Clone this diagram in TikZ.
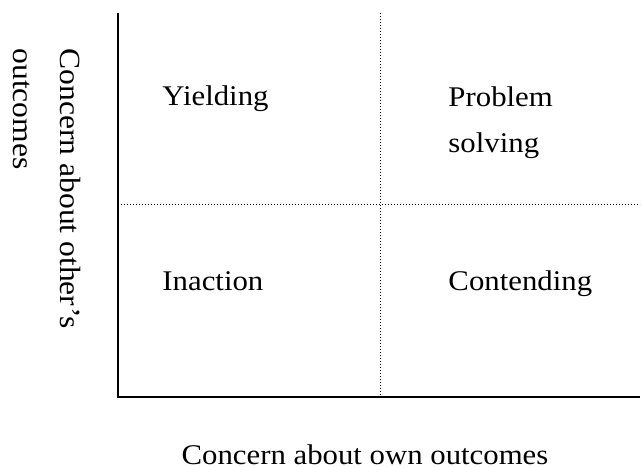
\documentclass[tikz,border=0pt]{standalone}
\usepackage{fontspec}
\setmainfont[FakeStretch=1.08]{Liberation Serif}
\usetikzlibrary{positioning}

\begin{document}
\begin{tikzpicture}[x=0.4pt, y=-0.4pt,
    axis/.style={line width=0.8pt},
    grid/.style={line width=0.4pt, dash pattern=on 0.4pt off 0.8pt},
    quad/.style={inner sep=0pt, align=left, font=\fontsize{11.4}{18.4}\selectfont}]
      \useasboundingbox (0,0) rectangle (642,467);
      \coordinate (O) at (118,397);
      \coordinate (Ytop) at (118,13);
      \coordinate (Xend) at (640,397);
      \coordinate (Mtop) at (381,13);
      \coordinate (Mbot) at (381,397);
      \coordinate (Mleft) at (118,204);
      \coordinate (Mright) at (640,204);

      \draw[grid] (Mtop) -- (Mbot);
      \draw[grid] (Mleft) -- (Mright);
      \draw[axis] (Ytop) -- (O) -- (Xend);

      \node[quad, anchor=base west] (Y) at (162,105) {Yielding};
      \node[quad, anchor=base west] (I) at (162,290) {Inaction};
      \node[quad, anchor=base west] (C) at (448,290) {Contending};
      \node[quad, anchor=north west] (P) at (448,86) {Problem\\solving};

      \node[quad, anchor=base] (own) at (365,464) {Concern about own outcomes};
      \node[quad, anchor=north west, rotate=-90, font=\fontsize{11.7}{18.8}\selectfont]
        (other) at (81,48) {Concern about other's\\outcomes};
    \end{tikzpicture}
\end{document}
